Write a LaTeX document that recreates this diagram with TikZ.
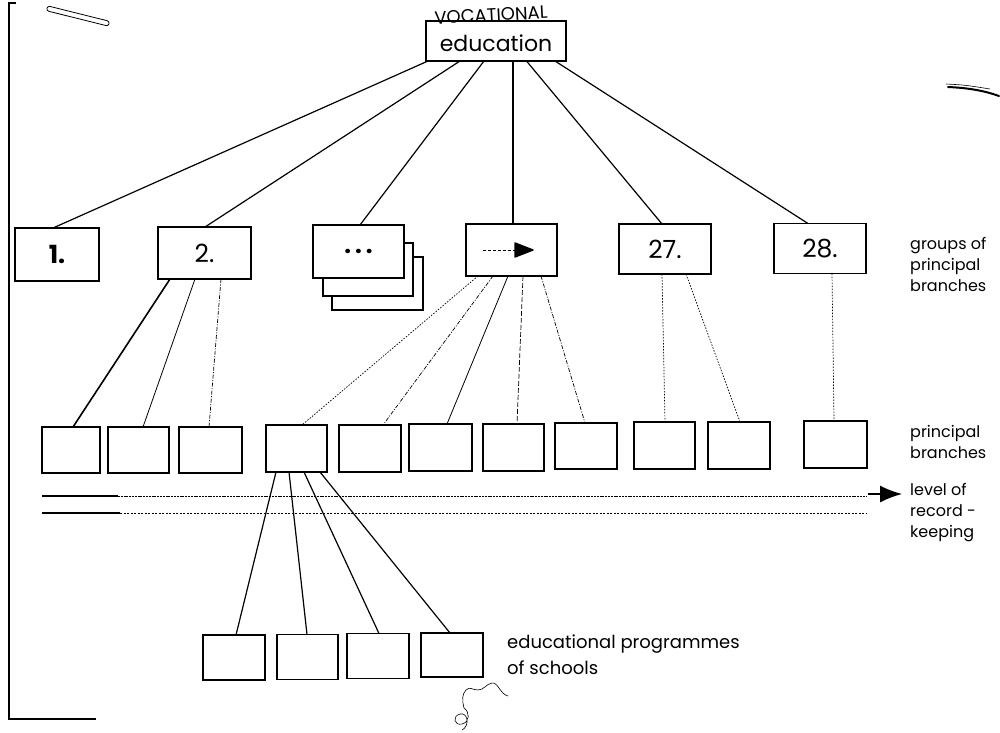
\documentclass[tikz,border=0pt]{standalone}
\usepackage{fontspec}
\setmainfont{Poppins}
\usetikzlibrary{arrows.meta,calc}

\begin{document}
\begin{tikzpicture}[x=1pt,y=-1pt,
  box/.style={draw, line width=1.5pt, inner sep=0pt, outer sep=0pt, fill=white},
  gbox/.style={box, minimum width=92pt, minimum height=50pt},
  pbox/.style={box, minimum width=62pt, minimum height=46pt},
  num/.style={font=\fontsize{25}{25}\selectfont},
  lbl/.style={font=\fontsize{16}{21}\selectfont, align=left, anchor=west, inner sep=0pt},
  link/.style={line width=1.2pt},
  thinsolid/.style={line width=0.8pt},
  dashlink/.style={line width=0.7pt, dash pattern=on 5pt off 2pt},
  dotlink/.style={line width=0.7pt, dash pattern=on 1.5pt off 1.5pt},
  dashdot/.style={line width=0.7pt, dash pattern=on 4pt off 1.5pt on 1pt off 1.5pt},
  scan/.style={line width=0.8pt}
]
\useasboundingbox (0,0) rectangle (1000,732);

% ---- root ----
\node[box, minimum width=140pt, minimum height=40pt, font=\fontsize{22}{22}\selectfont,
      text depth=0pt] (root) at (496,41) {\raisebox{-4pt}{education}};
\node[font=\fontsize{18}{18}\selectfont, rotate=3, inner sep=0pt] (hand) at (491,15) {VOCATIONAL};

% ---- groups of principal branches ----
\node[gbox, minimum width=84pt, minimum height=53pt, num] (g1) at (57,254.5) {\bfseries 1.};
\node[gbox, minimum width=93pt, minimum height=52pt, num] (g2) at (204.5,253) {2.};
\node[gbox, minimum width=91pt, minimum height=53pt] (g3c) at (377.5,283.5) {};
\node[gbox, minimum width=90pt, minimum height=53pt] (g3b) at (368,269.5) {};
\node[gbox, minimum width=91pt, minimum height=53pt, font=\fontsize{24}{24}\selectfont\bfseries] (g3) at (358.5,251.5) {.\hspace{4pt}.\hspace{4pt}.};
\node[gbox, minimum width=91pt, minimum height=52pt] (g4) at (511.5,250) {};
\node[gbox, num] (g27) at (665,249) {27.};
\node[gbox, num] (g28) at (820,248.5) {28.};

% arrow symbol inside the fourth group
\draw[line width=1pt, dash pattern=on 3pt off 2pt] ($(g4.center)+(-28.5,0)$) -- ($(g4.center)+(3.5,0)$);
\draw[line width=1.4pt, fill=black, line join=round] ($(g4.center)+(3.5,-7)$) -- ($(g4.center)+(21.5,0)$) -- ($(g4.center)+(3.5,7)$) -- cycle;

% ---- principal branches ----
\node[pbox, minimum width=58pt] (b1) at (71,450) {};
\node[pbox, minimum width=61pt] (b2) at (138.5,450) {};
\node[pbox, minimum width=63pt] (b3) at (210.5,450) {};
\node[pbox, minimum width=61pt, minimum height=47pt] (b4) at (296.5,448.5) {};
\node[pbox, minimum height=47pt] (b5) at (370,448.5) {};
\node[pbox, minimum width=63pt, minimum height=47pt] (b6) at (440.5,447.5) {};
\node[pbox, minimum width=61pt, minimum height=47pt] (b7) at (513.5,447.5) {};
\node[pbox] (b8) at (586,446) {};
\node[pbox, minimum width=61pt, minimum height=47pt] (b9) at (664.5,445.5) {};
\node[pbox, minimum height=47pt] (b10) at (739,445.5) {};
\node[pbox, minimum width=63pt, minimum height=47pt] (b11) at (835.5,444.5) {};

% ---- educational programmes ----
\node[pbox, minimum height=45pt] (c1) at (234,657.5) {};
\node[pbox, minimum width=61pt, minimum height=45pt] (c2) at (307.5,657) {};
\node[pbox, minimum height=45pt] (c3) at (378,656) {};
\node[pbox, minimum height=44pt] (c4) at (452,655) {};

% ---- links: root to groups ----
\draw[link] ([xshift=-68pt]root.south) -- ([xshift=-4pt]g1.north);
\draw[link] ([xshift=-36pt]root.south) -- ([xshift=0.5pt]g2.north);
\draw[link] ([xshift=-12pt]root.south) -- ([xshift=1.5pt]g3.north);
\draw[link] ([xshift=17pt]root.south) -- ([xshift=1.5pt]g4.north);
\draw[link] ([xshift=30.5pt]root.south) -- ([xshift=-3pt]g27.north);
\draw[link] ([xshift=59pt]root.south) -- ([xshift=-12pt]g28.north);

% ---- links: groups to principal branches ----
\draw[line width=1.6pt] ([xshift=-34.5pt]g2.south) -- ([xshift=2pt]b1.north);
\draw[thinsolid] ([xshift=-9.5pt]g2.south) -- ([xshift=4.5pt]b2.north);
\draw[dashdot] ([xshift=16.5pt]g2.south) -- ([xshift=-1.5pt]b3.north);

\draw[dotlink] ([xshift=-33.5pt]g4.south) -- ([xshift=5.5pt]b4.north);
\draw[dashdot] ([xshift=-18.5pt]g4.south) -- ([xshift=13pt]b5.north);
\draw[thinsolid] ([xshift=-3.5pt]g4.south) -- ([xshift=6.5pt]b6.north);
\draw[dashlink] ([xshift=11.5pt]g4.south) -- ([xshift=3.5pt]b7.north);
\draw[dashdot] ([xshift=29.5pt]g4.south) -- ([xshift=-1pt]b8.north);

\draw[dotlink] ([xshift=-3pt]g27.south) -- ([xshift=0.5pt]b9.north);
\draw[dotlink] ([xshift=21pt]g27.south) -- ([xshift=1pt]b10.north);
\draw[dotlink] ([xshift=12pt]g28.south) -- ([xshift=-1.5pt]b11.north);

% ---- links: branch to school programmes ----
\draw[link] ([xshift=-20.5pt]b4.south) -- ([xshift=2pt]c1.north);
\draw[link] ([xshift=-7.5pt]b4.south) -- ([xshift=-0.5pt]c2.north);
\draw[link] ([xshift=7.5pt]b4.south) -- ([xshift=1pt]c3.north);
\draw[link] ([xshift=23.5pt]b4.south) -- ([xshift=-2pt]c4.north);

% ---- level of record-keeping ----
\coordinate (ra) at (42,496);
\coordinate (rm) at (118,496);
\coordinate (rb) at (866,496);
\coordinate (sa) at (42,513);
\coordinate (sm) at (120,513);
\coordinate (sb) at (866,513);
\draw[line width=1.3pt] (ra) -- (rm);
\draw[line width=0.9pt, dash pattern=on 2pt off 0.8pt] (rm) -- (rb);
\draw[line width=1.3pt] (sa) -- (sm);
\draw[line width=0.7pt, dash pattern=on 2pt off 1.5pt] (sm) -- (sb);

% ---- labels ----
\node[lbl] (lgrp) at (910,264) {groups of\\principal\\branches};
\node[lbl] (lpb) at (910,442) {principal\\branches};
\node[lbl] (lrec) at (910,513) {level of\\record -\\keeping};
\node[lbl, font=\fontsize{18}{26}\selectfont] (ledu) at (507,655) {educational programmes\\of schools};

\coordinate (arrS) at (868,494);
\draw[line width=1.3pt, -{Latex[length=22pt,width=17pt]}] (arrS) -- ([xshift=-8pt]lrec.west |- arrS);

% ---- page edge and pencil marks ----
\draw[scan, line width=1.3pt] (16,3) -- (9,3) -- (9,719) -- (96,719);
\draw[scan, rounded corners=2.5pt, rotate around={-14:(78,16)}] (46,13.5) rectangle (110,18.5);
\draw[scan, line width=2pt, line cap=round] (948,87) .. controls (970,88) and (985,91) .. (999,96);
\draw[scan, line width=0.6pt] (946,84) .. controls (965,85) .. (990,89);
\draw[line width=0.6pt] (508,696) .. controls (500,694) and (498,682) .. (492,683)
   .. controls (486,684) and (484,690) .. (478,690) .. controls (472,690) and (470,686) .. (466,690)
   .. controls (462,694) and (462,700) .. (464,708);
\draw[line width=0.6pt] (464,708) .. controls (470,712) and (470,722) .. (462,724)
   .. controls (454,726) and (452,716) .. (460,714) .. controls (468,712) and (470,726) .. (462,730);
\end{tikzpicture}
\end{document}
